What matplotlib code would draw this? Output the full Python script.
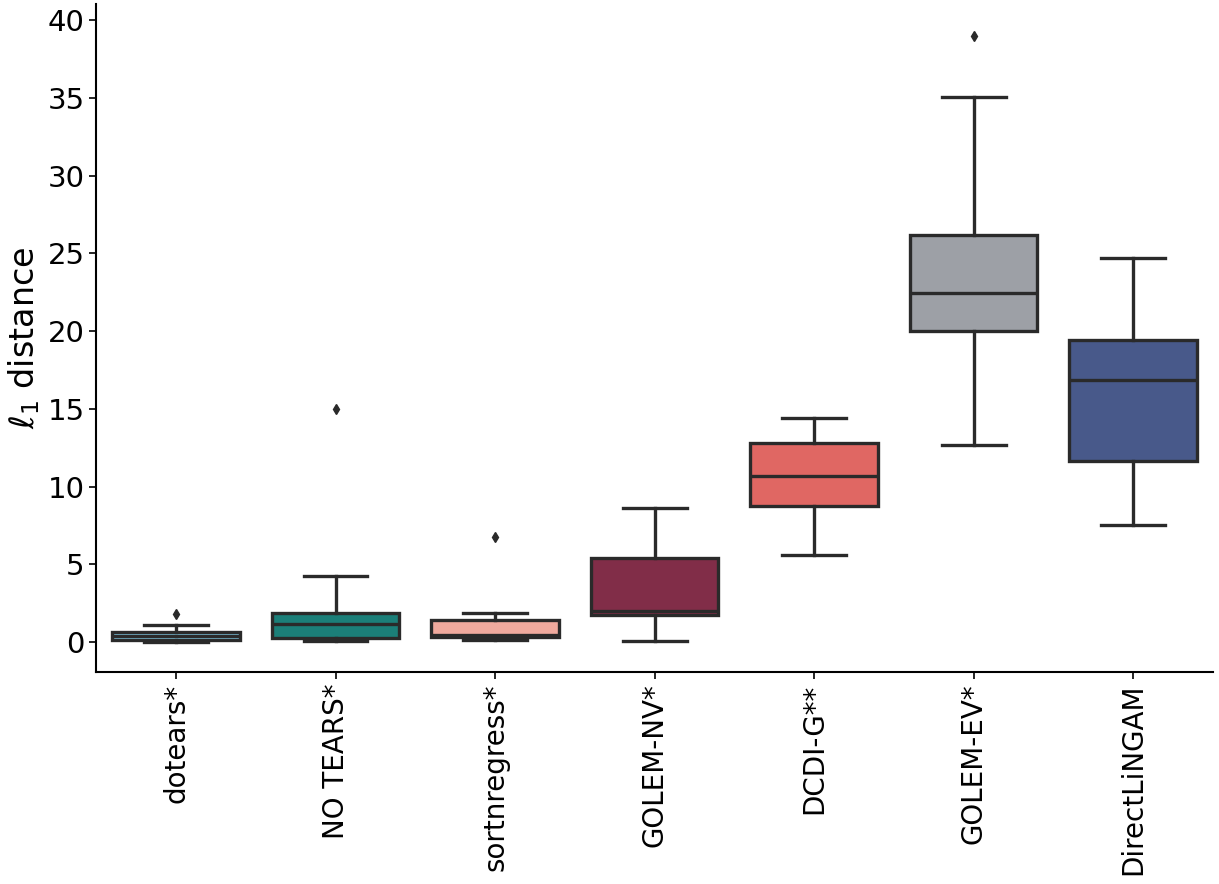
import numpy as np
import matplotlib
matplotlib.use("Agg")
import matplotlib.pyplot as plt

methods = ["dotears*", "NO TEARS*", "sortnregress*", "GOLEM-NV*", "DCDI-G**", "GOLEM-EV*", "DirectLiNGAM"]
whislo = [0.02, 0.06, 0.15, 0.06, 5.6, 12.67, 7.52]
q1 = [0.15, 0.28, 0.35, 1.74, 8.75, 20.0, 11.64]
med = [0.4, 1.2, 0.45, 2.04, 10.68, 22.42, 16.85]
q3 = [0.66, 1.91, 1.46, 5.4, 12.8, 26.15, 19.42]
whishi = [1.14, 4.24, 1.91, 8.62, 14.4, 35.03, 24.7]
fliers = [[1.83], [15.0], [6.75], [], [], [38.95], []]
colors = ["#7cc3dc", "#1b7f79", "#f0aa9e", "#812d48", "#e06763", "#9da0a6", "#48598a"]

edge = "#2a2a2a"
stats = []
for i in range(len(methods)):
    stats.append(dict(whislo=whislo[i], q1=q1[i], med=med[i], q3=q3[i],
                      whishi=whishi[i], fliers=fliers[i], label=methods[i]))

fig, ax = plt.subplots(figsize=(12.19, 8.84), dpi=100)
lw = 2.4
bp = ax.bxp(stats, positions=range(len(methods)), widths=0.8, patch_artist=True,
            boxprops=dict(linewidth=lw, edgecolor=edge),
            medianprops=dict(color=edge, linewidth=lw),
            whiskerprops=dict(color=edge, linewidth=lw),
            capprops=dict(color=edge, linewidth=lw),
            flierprops=dict(marker="d", markerfacecolor=edge, markeredgecolor=edge, markersize=5))
for patch, c in zip(bp["boxes"], colors):
    patch.set_facecolor(c)
for cap in bp["caps"]:
    m = cap.get_xdata().mean()
    cap.set_xdata([m - 0.2, m + 0.2])

ax.set_xlim(-0.5, len(methods) - 0.5)
ax.set_ylim(-1.9, 41)
ax.set_yticks(np.arange(0, 41, 5))
ax.set_xticks(range(len(methods)))
ax.set_xticklabels(methods, rotation=90, fontsize=20)
ax.tick_params(axis="y", labelsize=21)
ax.tick_params(axis="both", width=1.2, length=5)
ax.set_ylabel(r"$\ell_1$ distance", fontsize=24)
ax.spines["top"].set_visible(False)
ax.spines["right"].set_visible(False)
for s in ["left", "bottom"]:
    ax.spines[s].set_linewidth(1.5)

plt.subplots_adjust(left=0.079, right=0.995, bottom=0.24, top=0.995)
plt.savefig("out.png", dpi=100)
